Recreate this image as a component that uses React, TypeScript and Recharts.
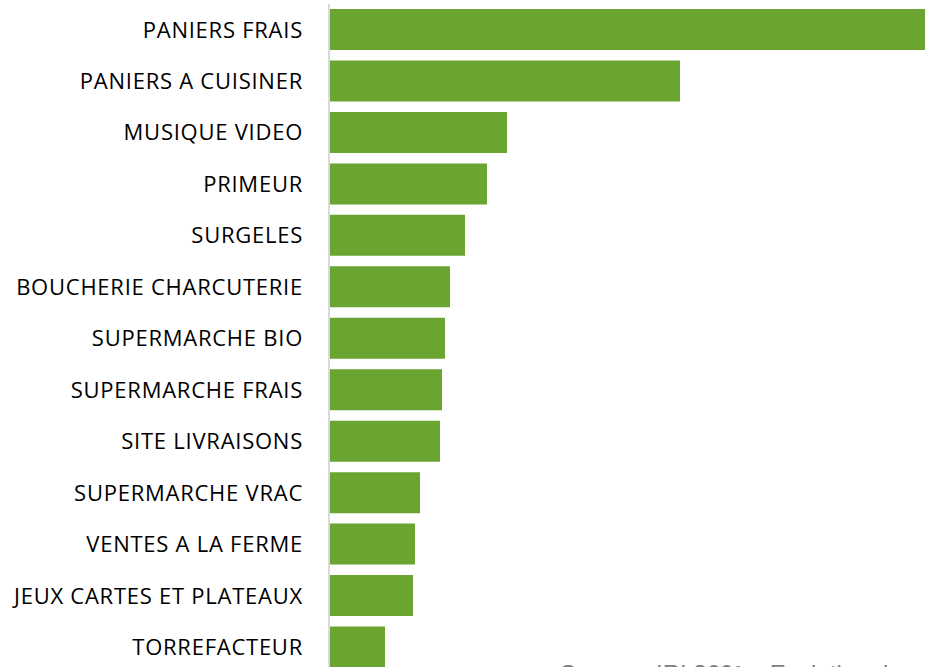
import { BarChart, Bar, XAxis, YAxis } from 'recharts'

const categories = [
  'PANIERS FRAIS',
  'PANIERS A CUISINER',
  'MUSIQUE VIDEO',
  'PRIMEUR',
  'SURGELES',
  'BOUCHERIE CHARCUTERIE',
  'SUPERMARCHE BIO',
  'SUPERMARCHE FRAIS',
  'SITE LIVRAISONS',
  'SUPERMARCHE VRAC',
  'VENTES A LA FERME',
  'JEUX CARTES ET PLATEAUX',
  'TORREFACTEUR',
]

const values = [600, 351, 178, 158, 136, 121, 116, 113, 111, 91, 86, 84, 56]

const sourceText = 'Source : IRI 360° – Evolution des ventes'

const data = categories.map((name, i) => ({ name, value: values[i] }))

export default function App() {
  return (
    <div
      style={{
        position: 'absolute',
        top: 0,
        left: 0,
        width: 925,
        height: 667,
        overflow: 'hidden',
        background: '#fff',
      }}
    >
      <BarChart
        layout="vertical"
        width={929}
        height={673}
        data={data}
        margin={{ top: 4, right: 0, left: 0, bottom: 0 }}
      >
        <XAxis type="number" domain={[0, 600]} hide />
        <YAxis
          type="category"
          dataKey="name"
          width={329}
          tickLine={false}
          tickMargin={20}
          axisLine={{ stroke: '#d9d9d9', strokeWidth: 2 }}
          tick={{ fill: '#000', fontSize: 22, fontFamily: 'Open Sans', letterSpacing: 0.75 }}
          interval={0}
        />
        <Bar dataKey="value" fill="#6aa532" barSize={41} isAnimationActive={false} />
      </BarChart>
      <div
        style={{
          position: 'absolute',
          left: 560,
          top: 660,
          fontFamily: 'Liberation Sans, Arial, sans-serif',
          fontSize: 24,
          color: '#808080',
          whiteSpace: 'nowrap',
        }}
      >
        {sourceText}
      </div>
    </div>
  )
}
